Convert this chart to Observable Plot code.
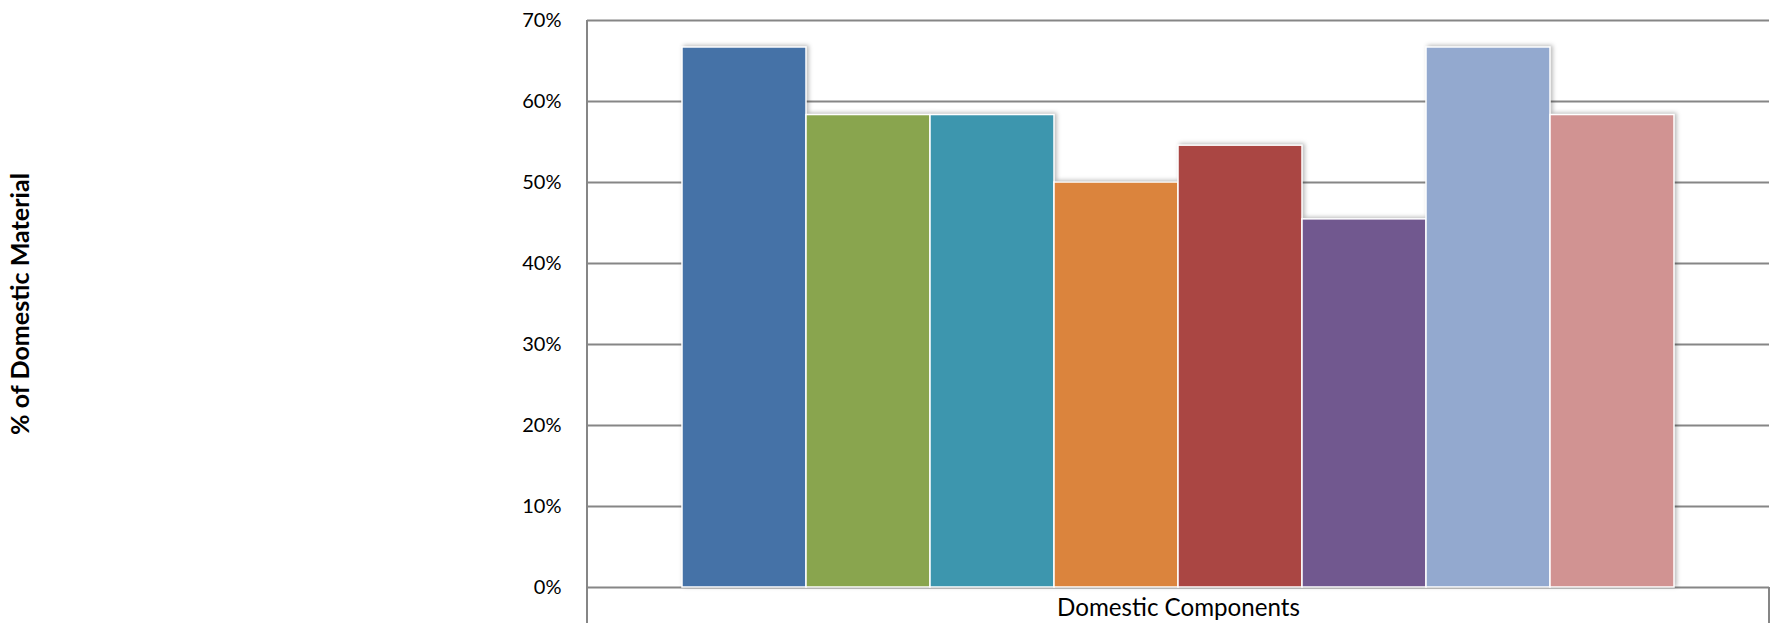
<!DOCTYPE html>
<html>
<head>
<meta charset="utf-8">
<script src="https://cdn.jsdelivr.net/npm/d3@7"></script>
<script src="https://cdn.jsdelivr.net/npm/@observablehq/plot@0.6"></script>
<style>
  html, body { margin: 0; padding: 0; background: #fff; }
  #chart svg { display: block; overflow: visible; }
</style>
</head>
<body>
<div id="chart"></div>
<script>
const category = "Domestic Components";
const series = ["Series 1", "Series 2", "Series 3", "Series 4", "Series 5", "Series 6", "Series 7", "Series 8"];
const values = [66.67, 58.33, 58.33, 50.0, 54.55, 45.45, 66.67, 58.33];
const colors = ["#4572A7", "#89A54E", "#3D96AE", "#DB843D", "#AA4643", "#71588F", "#93A9CF", "#D19392"];
const yTicks = [0, 10, 20, 30, 40, 50, 60, 70];
const yLabel = "% of Domestic Material";

const data = series.map((s, i) => ({series: s, value: values[i]}));

const W = 1774, H = 623;
const chart = Plot.plot({
  width: W,
  height: H,
  marginLeft: 587,
  marginRight: 5,
  marginTop: 20,
  marginBottom: 36,
  style: {fontFamily: "Lato, 'Open Sans', sans-serif", fontSize: "20px", color: "#000", background: "#fff"},
  x: {domain: series, paddingInner: 0, paddingOuter: 0.75, axis: null},
  y: {domain: [0, 70], ticks: yTicks},
  color: {domain: series, range: colors},
  marks: [
    Plot.gridY(yTicks, {stroke: "#868686", strokeOpacity: 1, strokeWidth: 2}),
    Plot.barY(data, {x: "series", y: "value", fill: "series", stroke: "#fff", strokeWidth: 1.5}),
    Plot.axisY({ticks: yTicks, tickSize: 0, tickPadding: 26, tickFormat: d => d + "%", label: null}),
    Plot.text([category], {frameAnchor: "bottom", dy: 28, text: d => d, fill: "#000"})
  ]
});

document.getElementById("chart").appendChild(chart);

const svg = d3.select(chart);
const xr = chart.scale("x").range;
const yS = chart.scale("y");
const y0 = yS.apply(0), yTop = yS.apply(70);
svg.select("g[aria-label='bar']").style("filter", "drop-shadow(2px -1px 2px rgba(0,0,0,0.28))");

// y-axis title
const lab = svg.append("text")
  .attr("transform", "translate(29,304) rotate(-90)")
  .attr("text-anchor", "middle")
  .attr("font-weight", "bold")
  .attr("font-family", "Lato, 'Open Sans', sans-serif")
  .attr("font-size", 20)
  .attr("fill", "#000")
  .text(yLabel);
let len = lab.node().getComputedTextLength();
lab.attr("font-size", (20 * 262 / len).toFixed(2));

// fit category label
const cat = svg.select("g[aria-label='text'] text");
cat.attr("font-size", 20);
len = cat.node().getComputedTextLength();
cat.attr("font-size", (20 * 243 / len).toFixed(2));

// left axis line and category box
const g = svg.append("g").attr("stroke", "#868686").attr("stroke-width", 2);
g.append("line").attr("x1", xr[0]).attr("x2", xr[0]).attr("y1", yTop).attr("y2", H);
g.append("line").attr("x1", xr[1]).attr("x2", xr[1]).attr("y1", y0).attr("y2", H);
</script>
</body>
</html>
